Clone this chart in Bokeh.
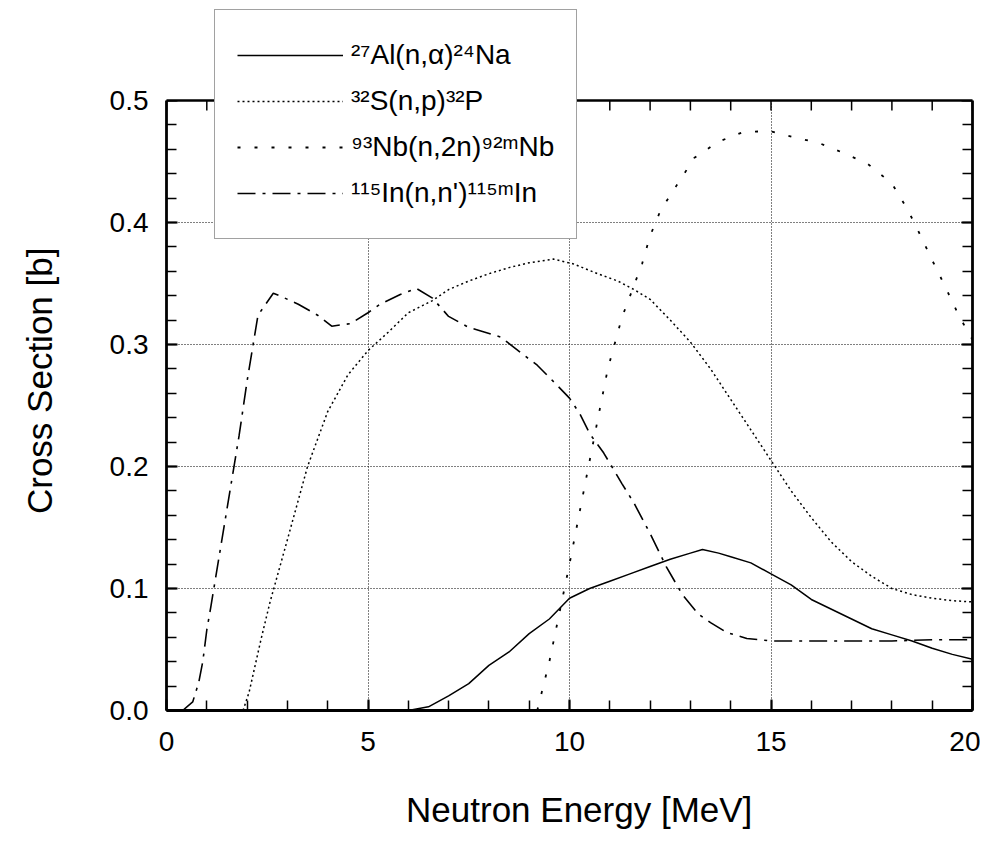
from bokeh.plotting import figure
from bokeh.models import (LinearAxis, FixedTicker, NumeralTickFormatter, Legend,
                          LegendItem, Range1d, BoxAnnotation, Span)
from bokeh.embed import file_html
from bokeh.resources import INLINE

# ---- data ----
al_x = [6.0, 6.5, 7.0, 7.5, 8.0, 8.5, 9.0, 9.5, 10.0, 10.5, 11.0, 11.5, 12.0, 12.5,
        13.0, 13.3, 13.7, 14.0, 14.5, 15.0, 15.5, 16.0, 16.5, 17.0, 17.5, 18.0,
        18.5, 19.0, 19.5, 20.0]
al_y = [0.0, 0.003, 0.012, 0.022, 0.037, 0.048, 0.063, 0.075, 0.092, 0.100, 0.106,
        0.112, 0.118, 0.124, 0.129, 0.132, 0.129, 0.126, 0.121, 0.112, 0.103, 0.091,
        0.083, 0.075, 0.067, 0.062, 0.057, 0.051, 0.046, 0.042]

s_x = [1.9, 2.05, 2.2, 2.35, 2.57, 3.0, 3.5, 4.0, 4.5, 5.0, 5.5, 6.0, 6.6, 7.0, 7.5,
       8.0, 8.5, 9.0, 9.6, 10.1, 10.7, 11.2, 11.6, 12.0, 12.5, 13.0, 13.5, 14.0,
       14.5, 15.0, 15.5, 16.0, 16.5, 17.0, 17.5, 18.0, 18.5, 19.0, 19.5, 20.0]
s_y = [0.0, 0.015, 0.037, 0.059, 0.089, 0.14, 0.20, 0.245, 0.275, 0.295, 0.31, 0.326,
       0.336, 0.345, 0.352, 0.358, 0.363, 0.367, 0.370, 0.366, 0.358, 0.352, 0.345,
       0.337, 0.320, 0.302, 0.280, 0.255, 0.230, 0.205, 0.180, 0.158, 0.138, 0.122,
       0.110, 0.100, 0.095, 0.092, 0.090, 0.089]

nb_x = [9.2, 9.5, 10.0, 10.43, 10.68, 10.95, 11.3, 11.8, 12.0, 12.26, 12.65, 13.1,
        13.68, 14.3, 14.95, 15.56, 16.2, 16.8, 17.4, 18.0, 18.4, 18.7, 19.0, 19.3,
        19.6, 19.9, 20.0]
nb_y = [0.0, 0.04, 0.12, 0.193, 0.235, 0.28, 0.322, 0.366, 0.389, 0.41, 0.43, 0.453,
        0.466, 0.474, 0.475, 0.470, 0.465, 0.457, 0.448, 0.432, 0.41, 0.39, 0.369,
        0.349, 0.328, 0.309, 0.304]

in_x = [0.4, 0.65, 0.8, 0.9, 1.0, 1.1, 1.5, 1.8, 2.0, 2.15, 2.27, 2.65, 2.87, 3.27,
        3.75, 4.1, 4.3, 4.56, 5.0, 5.3, 5.8, 6.2, 6.6, 7.0, 7.5, 7.8, 8.3, 8.8, 9.2,
        9.65, 10.0, 10.26, 10.5, 10.85, 11.05, 11.3, 11.6, 12.0, 12.4, 12.8, 13.2,
        13.5, 13.9, 14.4, 15.0, 16.0, 17.0, 18.0, 19.0, 20.0]
in_y = [0.0, 0.007, 0.023, 0.04, 0.066, 0.085, 0.165, 0.225, 0.27, 0.30, 0.324, 0.342,
        0.339, 0.333, 0.324, 0.315, 0.316, 0.317, 0.326, 0.333, 0.341, 0.346, 0.338,
        0.323, 0.314, 0.311, 0.306, 0.293, 0.283, 0.268, 0.256, 0.243, 0.227, 0.211,
        0.20, 0.186, 0.17, 0.145, 0.118, 0.095, 0.079, 0.072, 0.064, 0.059, 0.057,
        0.057, 0.057, 0.057, 0.058, 0.058]

labels = ["²⁷Al(n,α)²⁴Na", "³²S(n,p)³²P", "⁹³Nb(n,2n)⁹²ᵐNb", "¹¹⁵In(n,n')¹¹⁵ᵐIn"]

x_ticks = [0, 5, 10, 15, 20]
x_minor = list(range(0, 21))
y_ticks = [0.0, 0.1, 0.2, 0.3, 0.4, 0.5]
y_minor = [round(i * 0.02, 2) for i in range(26)]

X_MIN, X_MAX = 0, 20
Y_MIN, Y_MAX = 0.0, 0.5
Y_VIEW_TOP = 0.5803   # extra room above the frame top for the legend box

FONT = "Liberation Sans, Arial, Helvetica, sans-serif"
NB = "\u00a0"

p = figure(width=980, height=846, x_range=Range1d(X_MIN, X_MAX),
           y_range=Range1d(Y_MIN, Y_VIEW_TOP),
           output_backend="svg", toolbar_location=None,
           min_border_left=166, min_border_right=8, min_border_top=2,
           min_border_bottom=136, outline_line_color=None)
p.background_fill_color = "white"
p.border_fill_color = "white"

xt = FixedTicker(ticks=x_ticks, minor_ticks=x_minor)
yt = FixedTicker(ticks=y_ticks, minor_ticks=y_minor)

bottom = p.below[0]
left = p.left[0]
bottom.ticker = xt
bottom.axis_label = NB * 2 + "Neutron Energy [MeV]"
bottom.axis_label_standoff = 36
bottom.major_label_standoff = 21
left.ticker = yt
left.formatter = NumeralTickFormatter(format="0.0")
left.axis_label = "Cross Section [b]" + NB * 5
left.axis_label_standoff = 48
left.major_label_standoff = 18
left.bounds = (Y_MIN, Y_MAX)

right = LinearAxis(ticker=yt, bounds=(Y_MIN, Y_MAX), major_label_text_color=None)
p.add_layout(right, "right")

for ax in [bottom, left, right]:
    ax.axis_line_width = 2.8
    ax.axis_line_color = "black"
    ax.major_tick_in = 11
    ax.major_tick_out = 0
    ax.minor_tick_in = 10
    ax.minor_tick_out = 0
    ax.major_tick_line_width = 2
    ax.minor_tick_line_width = 1.5
    ax.major_tick_line_color = "black"
    ax.minor_tick_line_color = "black"
for ax in [bottom, left]:
    ax.major_label_text_font = FONT
    ax.major_label_text_color = "black"
    ax.major_label_text_font_size = "28px"
    ax.axis_label_text_font = FONT
    ax.axis_label_text_font_style = "normal"
    ax.axis_label_text_color = "black"
    ax.axis_label_text_font_size = "35px"

for g in p.grid:
    g.grid_line_color = "black"
    g.grid_line_width = 1
    g.grid_line_dash = "1 2"
p.xgrid.ticker = xt
p.ygrid.ticker = yt
p.ygrid.bounds = (Y_MIN, Y_MAX)

r_al = p.line(al_x, al_y, line_color="black", line_width=1.5)
r_s = p.line(s_x, s_y, line_color="black", line_width=1.5, line_dash="2 3")
r_nb = p.line(nb_x, nb_y, line_color="black", line_width=1.8, line_dash="3 14")
r_in = p.line(in_x, in_y, line_color="black", line_width=1.6, line_dash="18 7 3 7")

# top frame edge with inward ticks (at the top of the 0..0.5 frame)
tick_len = 0.0082
p.segment(x0=x_minor, y0=[Y_MAX] * len(x_minor), x1=x_minor,
          y1=[Y_MAX - tick_len] * len(x_minor), line_color="black", line_width=1.5)
# blank the area above the frame
p.add_layout(BoxAnnotation(bottom=Y_MAX, fill_color="white", fill_alpha=1.0,
                           line_color=None, level="annotation"))
p.add_layout(Span(location=Y_MAX, dimension="width", line_color="black",
                  line_width=2.5, level="annotation"))

legend = Legend(items=[LegendItem(label=labels[0], renderers=[r_al]),
                       LegendItem(label=labels[1], renderers=[r_s]),
                       LegendItem(label=labels[2], renderers=[r_nb]),
                       LegendItem(label=labels[3], renderers=[r_in])],
                location=(48, 471), glyph_width=106, glyph_height=46, spacing=0,
                padding=22, margin=0, label_standoff=8,
                label_text_font=FONT, label_text_font_size="28px",
                label_text_color="black",
                border_line_color="#444444", border_line_width=1.5,
                background_fill_color="white", background_fill_alpha=1.0)
p.add_layout(legend, "center")

open("out.html", "w").write(file_html(p, INLINE))
